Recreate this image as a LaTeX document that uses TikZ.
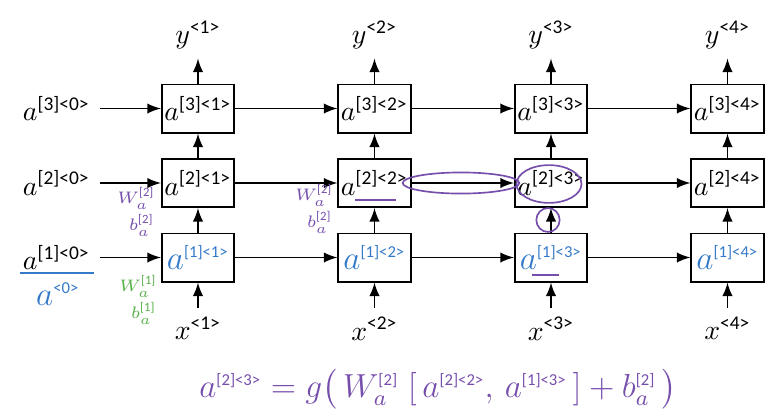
\documentclass[tikz,border=0pt]{standalone}
\usepackage{amsmath}
\usepackage{amssymb}
\usepackage{fontspec}
\setmainfont{Carlito}
\usetikzlibrary{positioning}
\definecolor{penpurple}{RGB}{118,78,172}
\definecolor{penblue}{RGB}{52,122,200}
\definecolor{pengreen}{RGB}{86,176,72}

\begin{document}
\begin{tikzpicture}[x=0.36pt,y=-0.36pt,
    cell/.style={draw,line width=0.7pt,minimum width=26pt,minimum height=17.3pt,inner sep=0pt},
    conn/.style={-latex,line width=0.7pt},
    pen/.style={line width=0.6pt},
    hand/.style={font=\large,text=penblue},
    note/.style={font=\fontsize{6.5}{6}\selectfont,align=left,inner sep=0pt}]
  \useasboundingbox (0,0) rectangle (782,418);
  \node[cell](a31) at (198,108.5){$a^{\text{[3]<1>}}$};
  \node[cell](a32) at (374.5,108.5){$a^{\text{[3]<2>}}$};
  \node[cell](a33) at (551,108.5){$a^{\text{[3]<3>}}$};
  \node[cell](a34) at (727.5,108.5){$a^{\text{[3]<4>}}$};
  \node[cell](a21) at (198,183){$a^{\text{[2]<1>}}$};
  \node[cell](a22) at (374.5,183){$a^{\text{[2]<2>}}$};
  \node[cell](a23) at (551,183){$a^{\text{[2]<3>}}$};
  \node[cell](a24) at (727.5,183){$a^{\text{[2]<4>}}$};
  \node[cell,hand](a11) at (198,257.5){$a^{\scriptscriptstyle\text{[1]<1>}}$};
  \node[cell,hand](a12) at (374.5,257.5){$a^{\scriptscriptstyle\text{[1]<2>}}$};
  \node[cell,hand](a13) at (551,257.5){$a^{\scriptscriptstyle\text{[1]<3>}}$};
  \node[cell,hand](a14) at (727.5,257.5){$a^{\scriptscriptstyle\text{[1]<4>}}$};
  \node[left=22pt of a31](a30){$a^{\text{[3]<0>}}$};
  \node[left=22pt of a21](a20){$a^{\text{[2]<0>}}$};
  \node[left=22pt of a11](a10){$a^{\text{[1]<0>}}$};
  \node[above=9pt of a31](y1){$y^{\text{<1>}}$};
  \node[above=9pt of a32](y2){$y^{\text{<2>}}$};
  \node[above=9pt of a33](y3){$y^{\text{<3>}}$};
  \node[above=9pt of a34](y4){$y^{\text{<4>}}$};
  \node[below=9pt of a11](x1){$x^{\text{<1>}}$};
  \node[below=9pt of a12](x2){$x^{\text{<2>}}$};
  \node[below=9pt of a13](x3){$x^{\text{<3>}}$};
  \node[below=9pt of a14](x4){$x^{\text{<4>}}$};
  \draw[conn] (a30) -- (a31);
  \draw[conn] (a20) -- (a21);
  \draw[conn] (a10) -- (a11);
  \draw[conn] (a31) -- (a32);
  \draw[conn] (a32) -- (a33);
  \draw[conn] (a33) -- (a34);
  \draw[conn] (a21) -- (a22);
  \draw[conn] (a22) -- (a23);
  \draw[conn] (a23) -- (a24);
  \draw[conn] (a11) -- (a12);
  \draw[conn] (a12) -- (a13);
  \draw[conn] (a13) -- (a14);
  \draw[conn] (a11) -- (a21);
  \draw[conn] (a12) -- (a22);
  \draw[conn] (a13) -- (a23);
  \draw[conn] (a14) -- (a24);
  \draw[conn] (a21) -- (a31);
  \draw[conn] (a22) -- (a32);
  \draw[conn] (a23) -- (a33);
  \draw[conn] (a24) -- (a34);
  \draw[conn] (a31) -- (y1);
  \draw[conn] (a32) -- (y2);
  \draw[conn] (a33) -- (y3);
  \draw[conn] (a34) -- (y4);
  \draw[conn] (x1) -- (a11);
  \draw[conn] (x2) -- (a12);
  \draw[conn] (x3) -- (a13);
  \draw[conn] (x4) -- (a14);
  \draw[pen,penblue] (20,273) -- (94,273);
  \node[hand](a0) at (58,294){$a^{\scriptscriptstyle\text{<0>}}$};
  \node[note,text=pengreen](wb1) at (138,300){$W_a^{\text{[1]}}$\\[1pt]$\;\;b_a^{\text{[1]}}$};
  \node[note,text=penpurple](wb2) at (136,212){$W_a^{\text{[2]}}$\\[1pt]$\;\;b_a^{\text{[2]}}$};
  \node[note,text=penpurple](wb3) at (314,209){$W_a^{\text{[2]}}$\\[1pt]$\;\;b_a^{\text{[2]}}$};
  \draw[pen,penpurple] (355,200) -- (396,200);
  \draw[pen,penpurple] (532,275) -- (559,275);
  \draw[pen,penpurple] (461,183) ellipse [x radius=21pt,y radius=3.8pt];
  \draw[pen,penpurple] (549,184) ellipse [x radius=11.7pt,y radius=6.8pt];
  \draw[pen,penpurple] (548,220) ellipse [x radius=4.2pt,y radius=4.3pt];
  \node[text=penpurple,font=\large](eq) at (438,389){$a^{\scriptscriptstyle\text{[2]<3>}}=g\big(\,W_a^{\scriptscriptstyle\text{[2]}}\;[\,a^{\scriptscriptstyle\text{[2]<2>}},\,a^{\scriptscriptstyle\text{[1]<3>}}\,]+b_a^{\scriptscriptstyle\text{[2]}}\,\big)$};
\end{tikzpicture}
\end{document}
